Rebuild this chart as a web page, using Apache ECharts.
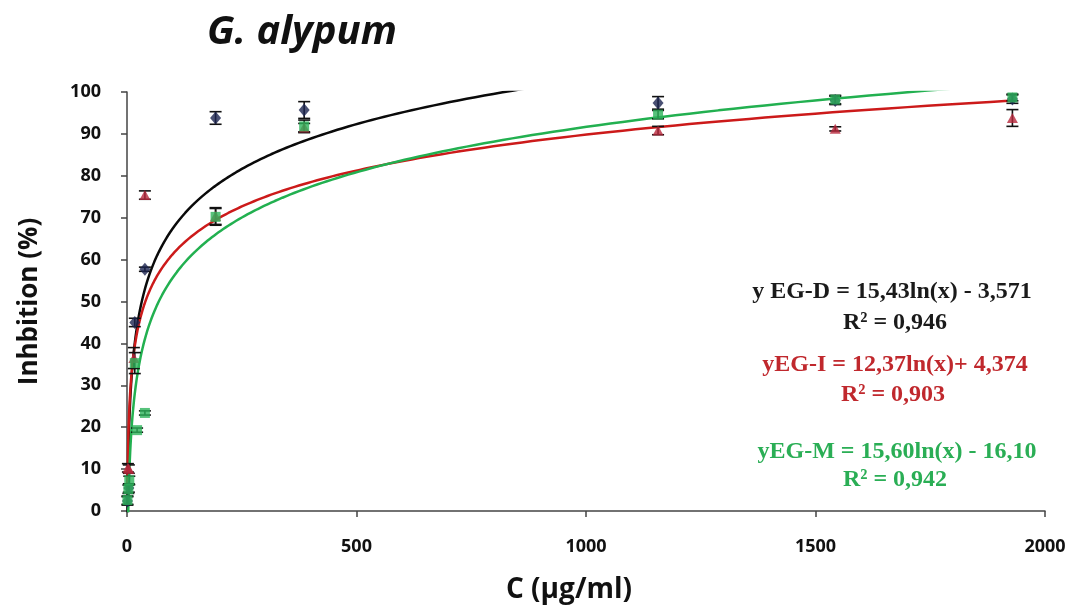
<!DOCTYPE html>
<html>
<head>
<meta charset="utf-8">
<script src="https://cdn.jsdelivr.net/npm/echarts@6/dist/echarts.min.js"></script>
<style>html,body{margin:0;padding:0;background:#fff}#c{width:1080px;height:609px}</style>
</head>
<body>
<div id="c"></div>
<script>
// Data
const xD = [1, 4, 17, 39, 193, 386, 1157, 1543, 1929];
const yD = [2.4, 5.5, 45, 57.7, 93.8, 95.7, 97.4, 98, 98.3];
const eD = [1, 1, 1, 0.5, 1.5, 2, 1.5, 1, 1];

const xI = [2, 4, 15, 39, 193, 386, 1157, 1543, 1929];
const yI = [10.3, 10, 36.5, 75.4, 70.4, 91.5, 90.8, 91.2, 93.8];
const eI = [1, 1, 2.5, 1, 2, 1, 1, 0.5, 2];

const xM = [1, 3, 5, 17, 22, 39, 193, 386, 1157, 1543, 1929];
const yM = [2.6, 5.2, 7.3, 35.3, 19.3, 23.4, 70.2, 91.8, 94.6, 98.2, 98.7];
const eM = [1, 1, 1, 2.5, 0.5, 0.5, 2, 1.5, 1, 1, 0.8];

// Trendline coefficients printed on the chart: y = a ln(x) + b
const trendD = {a: 15.43, b: -3.571};
const trendI = {a: 12.37, b: 4.374};
const trendM = {a: 15.60, b: -16.10};

const xTicks = [0, 500, 1000, 1500, 2000];
const yTicks = [0, 10, 20, 30, 40, 50, 60, 70, 80, 90, 100];

function trendPoints(t, x0, x1) {
  const pts = [];
  const n = 300;
  for (let i = 0; i <= n; i++) {
    const x = Math.exp(Math.log(x0) + (Math.log(x1) - Math.log(x0)) * i / n);
    pts.push([x, t.a * Math.log(x) + t.b]);
  }
  return pts;
}
function pairs(xs, ys) { return xs.map((x, i) => [x, ys[i]]); }
function errData(xs, ys, es) { return xs.map((x, i) => [x, ys[i] - es[i], ys[i] + es[i]]); }

function errSeries(data) {
  return {
    type: 'custom', data: data, z: 3, silent: true,
    renderItem: function (params, api) {
      const lo = api.coord([api.value(0), api.value(1)]);
      const hi = api.coord([api.value(0), api.value(2)]);
      const w = 6;
      const st = {stroke: '#111', lineWidth: 1.6};
      return {type: 'group', children: [
        {type: 'line', shape: {x1: lo[0], y1: lo[1], x2: hi[0], y2: hi[1]}, style: st},
        {type: 'line', shape: {x1: lo[0] - w, y1: lo[1], x2: lo[0] + w, y2: lo[1]}, style: st},
        {type: 'line', shape: {x1: hi[0] - w, y1: hi[1], x2: hi[0] + w, y2: hi[1]}, style: st}
      ]};
    }
  };
}

const cBlack = '#0a0a0a', cRed = '#cc1a1a', cGreen = '#22b050';
const mBlack = '#1c2450', mRed = '#b8283c', mGreen = '#2db35a';

const chart = echarts.init(document.getElementById('c'));
const eqFont = '"Liberation Serif", "Times New Roman", serif';
const sans = '"Open Sans", Lato, sans-serif';
chart.setOption({
  animation: false,
  backgroundColor: '#fff',
  grid: {left: 127, right: 35, top: 92, bottom: 98},
  xAxis: {
    type: 'value', min: 0, max: 2000, interval: 500,
    axisLine: {show: true, lineStyle: {color: '#444', width: 1.5}},
    axisTick: {show: true, length: 6, lineStyle: {color: '#444', width: 1.5}},
    splitLine: {show: false},
    axisLabel: {color: '#111', fontSize: 18, fontWeight: 'bold', fontFamily: sans, margin: 27,
      formatter: v => xTicks.indexOf(v) >= 0 ? String(v) : ''}
  },
  yAxis: {
    type: 'value', min: 0, max: 100, interval: 10,
    axisLine: {show: true, lineStyle: {color: '#444', width: 1.5}},
    axisTick: {show: true, length: 6, lineStyle: {color: '#444', width: 1.5}},
    splitLine: {show: false},
    axisLabel: {color: '#111', fontSize: 18, fontWeight: 'bold', fontFamily: sans, margin: 26,
      formatter: v => yTicks.indexOf(v) >= 0 ? String(v) : ''},
    name: 'Inhbition (%)', nameLocation: 'middle', nameGap: 84, nameRotate: 90,
    nameTextStyle: {color: '#111', fontSize: 26, fontWeight: 'bold', fontFamily: sans}
  },
  graphic: [
    {type: 'text', left: 207, top: 13, style: {text: 'G. alypum', fill: '#111', font: 'italic bold 40px ' + sans}},
    {type: 'text', x: 569, y: 590, style: {text: 'C (µg/ml)', fill: '#111', font: 'bold 28px ' + sans, align: 'center', verticalAlign: 'middle'}},
    {type: 'text', x: 892, y: 292, style: {text: 'y EG-D = 15,43ln(x) - 3,571', fill: '#1a1a1a', font: 'bold 24px ' + eqFont, align: 'center', verticalAlign: 'middle'}},
    {type: 'text', x: 895, y: 323, style: {text: 'R² = 0,946', fill: '#1a1a1a', font: 'bold 24px ' + eqFont, align: 'center', verticalAlign: 'middle'}},
    {type: 'text', x: 895, y: 365, style: {text: 'yEG-I = 12,37ln(x)+ 4,374', fill: '#c0282d', font: 'bold 24px ' + eqFont, align: 'center', verticalAlign: 'middle'}},
    {type: 'text', x: 893, y: 395, style: {text: 'R² = 0,903', fill: '#c0282d', font: 'bold 24px ' + eqFont, align: 'center', verticalAlign: 'middle'}},
    {type: 'text', x: 897, y: 452, style: {text: 'yEG-M = 15,60ln(x) - 16,10', fill: '#2aae55', font: 'bold 24px ' + eqFont, align: 'center', verticalAlign: 'middle'}},
    {type: 'text', x: 895, y: 480, style: {text: 'R² = 0,942', fill: '#2aae55', font: 'bold 24px ' + eqFont, align: 'center', verticalAlign: 'middle'}}
  ],
  series: [
    {type: 'line', data: trendPoints(trendD, 1, 1929), showSymbol: false, clip: true, z: 2, lineStyle: {color: cBlack, width: 2.5}},
    {type: 'line', data: trendPoints(trendI, 1, 1929), showSymbol: false, clip: true, z: 2, lineStyle: {color: cRed, width: 2.5}},
    {type: 'line', data: trendPoints(trendM, 1, 1929), showSymbol: false, clip: true, z: 2, lineStyle: {color: cGreen, width: 2.5}},
    errSeries(errData(xD, yD, eD)),
    errSeries(errData(xI, yI, eI)),
    errSeries(errData(xM, yM, eM)),
    {type: 'scatter', data: pairs(xD, yD), symbol: 'diamond', symbolSize: [11, 13], z: 4, clip: false, itemStyle: {color: mBlack}},
    {type: 'scatter', data: pairs(xI, yI), symbol: 'triangle', symbolSize: [11, 10], z: 4, clip: false, itemStyle: {color: mRed}},
    {type: 'scatter', data: pairs(xM, yM), symbol: 'rect', symbolSize: [10, 10], z: 4, clip: false, itemStyle: {color: mGreen}}
  ]
});
</script>
</body>
</html>
